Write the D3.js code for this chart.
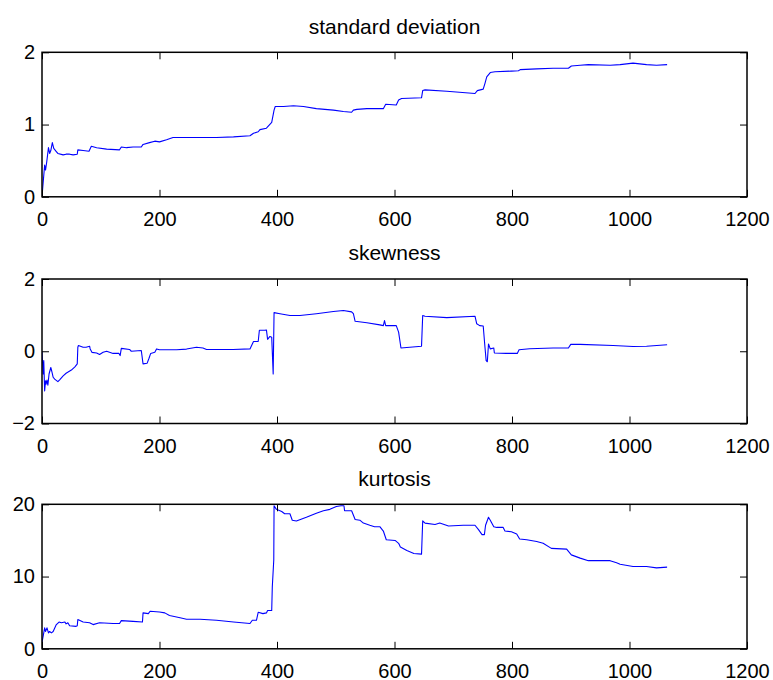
<!DOCTYPE html>
<html>
<head>
<meta charset="utf-8">
<script src="https://cdn.jsdelivr.net/npm/d3@7"></script>
<style>
  body { margin: 0; background: #fff; }
  svg { display: block; font-family: "Liberation Sans", Arial, Helvetica, sans-serif; }
  .tick text { font-size: 20px; fill: #000; }
  .tick line { stroke: #000; stroke-width: 1; }
  .title { font-size: 21px; fill: #000; text-anchor: middle; }
</style>
</head>
<body>
<div id="chart"></div>
<script>
// values, [sample, value]
const stdDev = [
  [0,0],[2,0.2],[4.5,0.44],[6,0.37],[8,0.48],[11,0.68],[13,0.6],[15,0.64],[17.6,0.75],[20,0.67],
  [24,0.63],[27,0.6],[36,0.58],[41,0.59],[47,0.59],[53,0.58],[60,0.59],[61,0.65],[70,0.64],[80,0.63],
  [84,0.7],[93,0.68],[110,0.66],[132,0.65],[135,0.69],[144,0.68],[155,0.69],[169,0.69],[172,0.725],
  [183,0.75],[192,0.77],[200,0.76],[212,0.79],[223,0.82],[246,0.82],[269,0.82],[297,0.82],[326,0.83],
  [354,0.845],[360,0.88],[368,0.9],[371,0.93],[382,0.95],[391,1.03],[395,1.2],[397,1.25],[411,1.25],
  [428,1.26],[445,1.25],[467,1.22],[496,1.2],[513,1.18],[527,1.17],[530,1.2],[536,1.21],[553,1.22],
  [581,1.22],[585,1.28],[603,1.27],[607,1.34],[612,1.36],[646,1.37],[648,1.47],[652,1.48],[689,1.46],
  [737,1.43],[741,1.47],[751,1.49],[754,1.57],[757,1.66],[763,1.72],[771,1.73],[799,1.74],[811,1.745],
  [814,1.76],[842,1.77],[870,1.78],[896,1.78],[901,1.81],[916,1.82],[930,1.83],[967,1.82],[984,1.83],
  [1006,1.85],[1029,1.83],[1046,1.82],[1064,1.83]
];

const skewness = [
  [0,0],[2,-0.63],[3,-0.26],[4.5,-1.1],[6,-0.82],[7,-0.91],[8.5,-0.8],[10,-0.94],[12,-0.63],[15,-0.45],
  [17,-0.58],[19,-0.72],[21.6,-0.77],[27,-0.84],[30,-0.79],[36,-0.68],[41,-0.61],[50,-0.52],[56,-0.43],
  [60,-0.35],[61,0.11],[62,0.16],[70,0.11],[75,0.11],[81,0.14],[82,0.065],[85,-0.03],[93,-0.05],
  [98,-0.09],[104,-0.03],[110,0],[121,-0.06],[131,-0.06],[133,-0.12],[135,0.08],[149,0.05],[152,0],
  [169,0.02],[172,-0.35],[179,-0.33],[182,-0.2],[185,-0.06],[192,-0.03],[195,0.065],[200,0.04],
  [229,0.04],[246,0.06],[263,0.11],[274,0.09],[280,0.05],[325,0.05],[354,0.065],[360,0.27],[368,0.27],
  [370,0.58],[379,0.58],[382,0.59],[384,0.33],[388,0.41],[391,0.39],[393.5,-0.63],[395,1.07],[405,1.04],
  [422,0.99],[439,0.99],[467,1.04],[496,1.1],[513,1.13],[527,1.09],[530,1.04],[533,0.83],[553,0.79],
  [575,0.73],[581,0.71],[583,0.85],[585,0.71],[603,0.71],[607,0.53],[610,0.2],[611,0.09],[646,0.14],
  [648,0.99],[652,0.97],[689,0.93],[737,0.97],[740,0.76],[745,0.71],[751,0.7],[754,0.11],[756,-0.26],
  [758,-0.29],[760,0.2],[763,0.065],[769,0.09],[770,-0.05],[790,-0.06],[809,-0.06],[812,0.04],
  [830,0.07],[870,0.09],[896,0.09],[900,0.19],[916,0.19],[972,0.16],[1006,0.13],[1029,0.14],[1064,0.18]
];

const kurtosis = [
  [0,0.9],[2,1.75],[4.5,2.9],[6,2.4],[8.5,2.9],[11,2.2],[13,2.4],[16,2.2],[19,2.4],[24,3.3],[29,3.7],
  [33,3.6],[39,3.7],[41,3.45],[44,3.6],[47,3.2],[58,3.1],[60,3.2],[61,4.05],[70,3.7],[81,3.6],[87,3.35],
  [98,3.6],[121,3.5],[132,3.5],[135,3.9],[155,3.8],[171,3.7],[172,4.97],[181,4.87],[184,5.2],[200,5.1],
  [209,4.97],[217,4.6],[235,4.3],[246,4.1],[269,4.1],[297,3.95],[326,3.7],[354,3.5],[358,3.95],
  [365,3.95],[368,5.05],[376,4.87],[382,4.97],[384,5.3],[391,5.3],[392,8.6],[394.5,12.3],[395,19.8],
  [399,19.3],[408,19.0],[413,18.7],[422,18.7],[426,17.8],[433,17.7],[450,18.2],[467,18.75],[479,19.1],
  [490,19.3],[501,19.7],[509,19.8],[514,19.8],[515,19.1],[527,19.1],[533,17.9],[541,17.8],[547,17.4],
  [558,17.1],[566,16.9],[575,16.9],[581,16.3],[586,15.1],[601,15.0],[607,14.6],[610,14.1],[621,13.6],
  [633,13.2],[646,13.1],[648,17.7],[652,17.4],[669,17.2],[677,17.4],[692,17.0],[717,17.1],[737,17.1],
  [743,16.5],[749,15.8],[753,15.8],[755,17.1],[760,18.2],[763,17.8],[769,16.9],[774,16.8],[785,16.8],
  [788,16.3],[799,16.2],[808,15.9],[813,15.2],[825,15.1],[842,14.85],[853,14.6],[867,13.9],[893,13.8],
  [901,13.0],[916,12.55],[930,12.2],[967,12.2],[978,11.9],[984,11.7],[1006,11.4],[1029,11.4],
  [1046,11.2],[1064,11.3]
];

const xTicks = [0, 200, 400, 600, 800, 1000, 1200];
const titles = ['standard deviation', 'skewness', 'kurtosis'];
const yDomains = [[0, 2], [-2, 2], [0, 20]];
const yTicks = [[0, 1, 2], [-2, 0, 2], [0, 10, 20]];
const series = [stdDev, skewness, kurtosis];

const width = 773, height = 680;
const left = 42, right = 747;
const panelTops = [52.3, 279, 504.3];
const panelH = 144.5;
const tick = 7;
const fmt = d3.format('d'); // plain integers, U+2212 minus

const svg = d3.select('#chart').append('svg')
    .attr('width', width)
    .attr('height', height);

const x = d3.scaleLinear().domain([0, 1200]).range([left, right]);

series.forEach((data, i) => {
    const top = panelTops[i];
    const bottom = top + panelH;
    const y = d3.scaleLinear().domain(yDomains[i]).range([bottom, top]);
    const g = svg.append('g');

    g.append('clipPath').attr('id', 'clip' + i)
        .append('rect')
        .attr('x', left).attr('y', top)
        .attr('width', right - left).attr('height', panelH);

    g.append('path')
        .datum(data)
        .attr('clip-path', `url(#clip${i})`)
        .attr('fill', 'none')
        .attr('stroke', '#0000ff')
        .attr('stroke-width', 1.1)
        .attr('stroke-linejoin', 'round')
        .attr('d', d3.line().x(d => x(d[0])).y(d => y(d[1])));

    // inward ticks on all four sides, labels only bottom and left
    g.append('g')
        .attr('transform', `translate(0,${bottom})`)
        .call(d3.axisBottom(x).tickValues(xTicks).tickFormat(fmt).tickSize(-tick).tickPadding(15));
    g.append('g')
        .attr('transform', `translate(0,${top})`)
        .call(d3.axisTop(x).tickValues(xTicks).tickSize(-tick).tickFormat(''));
    g.append('g')
        .attr('transform', `translate(${left},0)`)
        .call(d3.axisLeft(y).tickValues(yTicks[i]).tickFormat(fmt).tickSize(-tick).tickPadding(7));
    g.append('g')
        .attr('transform', `translate(${right},0)`)
        .call(d3.axisRight(y).tickValues(yTicks[i]).tickSize(-tick).tickFormat(''));

    g.selectAll('.domain').remove();
    g.selectAll('.tick text').attr('font-family', null).attr('font-size', null);

    g.append('rect')
        .attr('x', left).attr('y', top)
        .attr('width', right - left).attr('height', panelH)
        .attr('fill', 'none')
        .attr('stroke', '#000')
        .attr('stroke-width', 1.5);

    svg.append('text')
        .attr('class', 'title')
        .attr('x', (left + right) / 2)
        .attr('y', top - 18.8)
        .text(titles[i]);
});
</script>
</body>
</html>
